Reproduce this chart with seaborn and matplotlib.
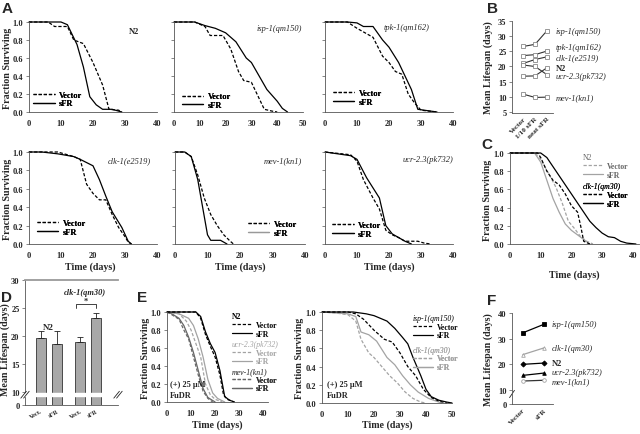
import numpy as np
import matplotlib
matplotlib.use('Agg')
import matplotlib.pyplot as plt
import seaborn as sns
from matplotlib.lines import Line2D

# ---- values ----
# survival curves: (days, fraction surviving)
A_N2_VEC = ([0, 6, 8, 12, 14, 17, 20, 23, 25, 28, 29], [1, 1, .95, .95, .8, .76, .55, .3, .03, .02, 0])
A_N2_SFR = ([0, 10, 12, 15, 17, 19, 21, 23, 26, 28, 29], [1, 1, .97, .75, .5, .17, .08, .03, .03, .01, 0])
A_ISP_VEC = ([0, 8, 12, 14, 19, 22, 25, 27, 30, 33, 35, 38, 40], [1, 1, .95, .85, .85, .7, .45, .35, .33, .15, .03, .01, 0])
A_ISP_SFR = ([0, 8, 12, 16, 20, 24, 28, 30, 33, 36, 40, 42, 44], [1, 1, .96, .93, .88, .78, .6, .55, .4, .25, .12, .04, 0])
A_TPK_VEC = ([0, 7, 10, 15, 18, 20, 22, 24, 26, 28, 30, 35], [1, 1, .93, .83, .62, .55, .45, .42, .2, .1, .02, 0])
A_TPK_SFR = ([0, 7, 10, 12, 15, 18, 20, 23, 27, 29, 33, 35], [1, 1, .99, .95, .95, .8, .72, .55, .25, .03, .01, 0])
A_CLK_VEC = ([0, 9, 14, 16, 18, 20, 22, 24, 26, 28, 30, 31, 32], [1, 1, .95, .92, .65, .55, .48, .48, .32, .18, .08, .02, 0])
A_CLK_SFR = ([0, 4, 9, 14, 16, 20, 22, 24, 26, 29, 31, 32], [1, 1, .98, .95, .92, .85, .7, .52, .35, .18, .03, 0])
A_MEV_VEC = ([0, 3, 5, 7, 9, 11, 13, 15, 17, 18], [1, 1, .95, .75, .5, .32, .2, .1, .03, 0])
A_MEV_SFR = ([0, 3, 5, 7, 9, 10, 11, 14, 15, 16], [1, 1, .95, .7, .3, .1, .04, .04, .02, 0])
A_UCR_VEC = ([0, 8, 10, 12, 15, 17, 19, 21, 23, 25, 29, 31, 33], [1, .97, .9, .7, .5, .38, .15, .1, .07, .03, .03, .01, 0])
A_UCR_SFR = ([0, 8, 10, 13, 17, 19, 21, 23, 25, 27], [1, .96, .92, .72, .5, .2, .11, .07, .03, 0])

C_N2_VEC = ([0, 8, 10, 13, 15, 17, 19, 21, 23, 25, 27], [1, 1, .93, .75, .62, .45, .25, .17, .08, .03, 0])
C_N2_SFR = ([0, 8, 10, 12, 14, 16, 18, 20, 22, 24, 26], [1, 1, .9, .7, .5, .35, .22, .15, .1, .05, 0])
C_CLK_VEC = ([0, 9, 10, 12, 14, 16, 18, 20, 22, 23, 24, 26], [1, 1, .95, .8, .7, .65, .55, .42, .35, .2, .03, 0])
C_CLK_SFR = ([0, 10, 12, 14, 16, 18, 20, 22, 24, 26, 28, 30, 32, 34, 36, 38, 41],
             [1, 1, .95, .85, .75, .65, .55, .45, .35, .25, .18, .12, .08, .07, .03, .01, 0])

E_N2_VEC = ([0, 12, 14, 16, 18, 20, 22, 23.5, 25, 28], [1, 1, .93, .75, .62, .5, .3, .08, .03, 0])
E_N2_SFR = ([0, 12, 14, 16, 18, 20, 22, 24, 26, 28], [1, 1, .95, .78, .65, .55, .35, .06, .02, 0])
E_UCR_VEC = ([0, 5, 8, 10, 12, 14, 16, 18, 20, 23], [1, .98, .9, .8, .65, .5, .2, .08, .03, 0])
E_UCR_SFR = ([0, 5, 9, 11, 13, 15, 17, 19, 21, 24], [1, .98, .93, .85, .7, .5, .25, .1, .04, 0])
E_MEV_VEC = ([0, 2, 5, 7, 9, 11, 13, 15, 17, 19], [1, .97, .92, .8, .7, .5, .3, .12, .04, 0])
E_MEV_SFR = ([0, 2, 5, 7, 9, 11, 13, 15, 17, 20], [1, .98, .93, .85, .72, .55, .35, .15, .05, 0])
E_ISP_VEC = ([0, 10, 13, 16, 20, 24, 27, 30, 33, 36, 39, 42, 45, 48], [1, 1, .98, .92, .8, .7, .67, .55, .4, .3, .15, .06, .02, 0])
E_ISP_SFR = ([0, 12, 17, 20, 25, 28, 31, 33, 35, 38, 40, 42, 45, 48, 50],
             [1, 1, .98, .96, .9, .82, .72, .65, .5, .3, .15, .07, .03, .01, 0])
E_CLK_VEC = ([0, 5, 10, 13, 15, 18, 20, 23, 26, 29, 32, 35, 38, 40], [1, .99, .97, .9, .7, .55, .5, .4, .3, .22, .12, .05, .01, 0])
E_CLK_SFR = ([0, 10, 13, 15, 18, 21, 25, 28, 31, 34, 37, 41, 44, 46], [1, .98, .95, .78, .75, .68, .5, .42, .3, .2, .12, .05, .02, 0])

# panel B: mean lifespan, three treatments
B_POS = [0, 1, 2]
B_TICKS = ['Vector', '1/10 sFR', 'neat sFR']
B_ISP = [26.6, 27.3, 31.8]
B_TPK = [23.6, 23.9, 25.1]
B_CLK = [21.0, 22.3, 23.2]
B_N2 = [20.5, 20.0, 17.3]
B_UCR = [16.8, 16.9, 19.6]
B_MEV = [10.9, 9.8, 9.9]

# panel D: mean lifespan bars
D_POS = [0, 1, 2.44, 3.44]
D_TICKS = ['Vect.', 'sFR', 'Vect.', 'sFR']
D_MEAN = [19.6, 18.6, 19.0, 23.3]
D_SEM = [1.3, 2.3, 0.8, 0.8]

# panel F: mean lifespan with FuDR
F_POS = [0, 1]
F_TICKS = ['Vector', 'sFR']
F_ISP = [32.3, 35.6]
F_CLK = [23.8, 26.4]
F_N2 = [20.0, 20.5]
F_UCR = [15.7, 16.6]
F_MEV = [13.5, 13.8]

# ---- style ----
W, H = 640, 435
SERIF = ['Liberation Serif', 'DejaVu Serif']
SANS = ['Liberation Sans', 'DejaVu Sans']
GRAY = '#a3a3a3'
DGRAY = '#666666'
DASH = (0, (2.6, 1.5))
TICK_FS = 6
LAB_FS = 7.2
LEG_FS = 6

sns.set_theme(style='ticks')
plt.rcParams['font.family'] = SERIF

fig = plt.figure(figsize=(6.4, 4.35), dpi=100)


def add_ax(x0, x1, ytop, ybot):
    return fig.add_axes([x0 / W, 1 - ybot / H, (x1 - x0) / W, (ybot - ytop) / H])


def fig_text(x, y, s, **kw):
    fig.text(x / W, 1 - y / H, s, ha='center', va='center', **kw)


def curve(ax, data, color='black', ls='-', lw=0.9):
    t, f = data
    sns.lineplot(x=t, y=f, ax=ax, color=color, linestyle=ls, linewidth=lw,
                 estimator=None, sort=False, clip_on=False)


def style_axes(ax, xlim, xticks, ylim, yticks, yticklabels, xticklabels=None):
    ax.set_xlim(*xlim)
    ax.set_ylim(*ylim)
    ax.set_xticks(xticks)
    if xticklabels is not None:
        ax.set_xticklabels(xticklabels)
    ax.set_yticks(yticks)
    ax.set_yticklabels(yticklabels)
    ax.set_xlabel('')
    ax.set_ylabel('')
    sns.despine(ax=ax)
    ax.tick_params(labelsize=TICK_FS, width=0.5, color='#555', length=2, pad=2)
    ax.tick_params(axis='x', length=0, pad=5)
    for lab in ax.get_xticklabels() + ax.get_yticklabels():
        lab.set_fontweight('bold')
    for s in ('left', 'bottom'):
        ax.spines[s].set_linewidth(0.6)
        ax.spines[s].set_color('#555')


SURV_TICKS = [0, .2, .4, .6, .8, 1.0]
SURV_LABELS = ['0.0', '0.2', '0.4', '0.6', '0.8', '1.0']


def surv_axes(ax, xmax, xticks, ylabels=True):
    style_axes(ax, (0, xmax), xticks, (0, 1), SURV_TICKS,
               SURV_LABELS if ylabels else [])


def legend(ax, entries, anchor, loc='upper left', title=None, tcolor='black',
           tstyle='italic', tweight='normal', text_color='black', fs=LEG_FS):
    handles = [Line2D([], [], color=c, linestyle=ls, linewidth=0.9) for _, c, ls in entries]
    labels = [lab for lab, _, _ in entries]
    leg = ax.legend(handles, labels, loc=loc, bbox_to_anchor=anchor, frameon=False,
                    prop={'family': SERIF, 'weight': 'bold', 'size': fs},
                    title=title,
                    title_fontproperties={'family': SERIF, 'style': tstyle,
                                          'weight': tweight, 'size': fs},
                    alignment='left', handlelength=2.6, handletextpad=0.5,
                    labelspacing=0.1, borderpad=0, borderaxespad=0)
    if title:
        leg.get_title().set_color(tcolor)
    for t in leg.get_texts():
        t.set_color(text_color)
    ax.add_artist(leg)
    return leg


VS = [('Vector', 'black', DASH), ('sFR', 'black', '-')]

# ---- panel A ----
a_specs = [
    ((29, 157, 23, 113), 40, range(0, 41, 10), True, A_N2_VEC, A_N2_SFR, 'N2', (0.82, 0.9), (0.03, 0.05)),
    ((174, 303, 23, 113), 50, range(0, 51, 10), False, A_ISP_VEC, A_ISP_SFR, 'isp-1(qm150)', (0.99, 0.93), (0.06, 0.03)),
    ((325, 453, 23, 113), 40, range(0, 41, 10), False, A_TPK_VEC, A_TPK_SFR, 'tpk-1(qm162)', (0.82, 0.95), (0.06, 0.07)),
    ((29, 157, 153, 245), 40, range(0, 41, 10), True, A_CLK_VEC, A_CLK_SFR, 'clk-1(e2519)', (0.95, 0.91), (0.06, 0.09)),
    ((175, 305, 153, 245), 40, range(0, 41, 10), False, A_MEV_VEC, A_MEV_SFR, 'mev-1(kn1)', (0.98, 0.91), (0.56, 0.075)),
    ((325, 453, 153, 245), 40, range(0, 41, 10), False, A_UCR_VEC, A_UCR_SFR, 'ucr-2.3(pk732)', (1.0, 0.92), (0.055, 0.065)),
]
for box, xmax, xt, ylab, vec, sfr, name, npos, lpos in a_specs:
    ax = add_ax(*box)
    curve(ax, vec, ls=DASH)
    curve(ax, sfr)
    surv_axes(ax, xmax, list(xt), ylab)
    if name == 'N2':
        ax.text(*npos, name, transform=ax.transAxes, ha='center', va='center',
                fontsize=LEG_FS, fontweight='bold')
    else:
        ax.text(*npos, name, transform=ax.transAxes, ha='right', va='center',
                fontsize=LEG_FS, style='italic')
    ents = VS if name != 'mev-1(kn1)' else [('Vector', 'black', DASH), ('sFR', '#999999', '-')]
    legend(ax, ents, lpos, loc='lower left')

fig_text(7.5, 68, 'Fraction Surviving', rotation=90, fontsize=LAB_FS, fontweight='bold')
fig_text(7.5, 199, 'Fraction Surviving', rotation=90, fontsize=LAB_FS, fontweight='bold')
for xc in (90, 240, 389):
    fig_text(xc, 267, 'Time (days)', fontsize=LAB_FS, fontweight='bold')

# ---- panel B ----
ax = add_ax(512, 553, 22, 114)
for vals, txt, y, bold in [(B_ISP, 'isp-1(qm150)', 31.7, False), (B_TPK, 'tpk-1(qm162)', 26.4, False),
                           (B_CLK, 'clk-1(e2519)', 23.1, False), (B_N2, 'N2', 19.6, True),
                           (B_UCR, 'ucr-2.3(pk732)', 16.8, False), (B_MEV, 'mev-1(kn1)', 10.0, False)]:
    sns.lineplot(x=B_POS, y=vals, ax=ax, color='#333333', linewidth=0.8, marker='s',
                 markersize=2.6, markerfacecolor='white', markeredgecolor='#888888',
                 markeredgewidth=0.6, estimator=None, sort=False)
    ax.text(2.7, y, txt, fontsize=LEG_FS, va='center', ha='left', clip_on=False,
            style='normal' if bold else 'italic', fontweight='bold' if bold else 'normal')
style_axes(ax, (-0.92, 2.5), B_POS, (4.67, 35), [5, 10, 15, 20, 25, 30, 35],
           ['5', '10', '15', '20', '25', '30', '35'], B_TICKS)
for lab in ax.get_xticklabels():
    lab.set_rotation(45)
    lab.set_ha('right')
    lab.set_rotation_mode('anchor')
    lab.set_fontsize(5.2)
ax.tick_params(axis='x', pad=2)
fig_text(488, 68, 'Mean Lifespan (days)', rotation=90, fontsize=LAB_FS, fontweight='bold')

# ---- panel C ----
ax = add_ax(510, 639, 154, 245)
curve(ax, C_N2_VEC, color=GRAY, ls=DASH)
curve(ax, C_N2_SFR, color=GRAY)
curve(ax, C_CLK_VEC, ls=DASH)
curve(ax, C_CLK_SFR)
surv_axes(ax, 42, [0, 10, 20, 30, 40])
legend(ax, [('Vector', GRAY, DASH), ('sFR', GRAY, '-')], (0.566, 1.0), title='N2',
       tcolor=DGRAY, tstyle='normal', text_color=DGRAY, fs=5.6)
legend(ax, VS, (0.566, 0.68), title='clk-1(qm30)', fs=5.6)
fig_text(488, 200, 'Fraction Surviving', rotation=90, fontsize=LAB_FS, fontweight='bold')
fig_text(574, 275, 'Time (days)', fontsize=LAB_FS, fontweight='bold')

# ---- panel D ----
ax = add_ax(25, 118, 281, 406)
sns.barplot(x=D_POS, y=D_MEAN, native_scale=True, width=0.62, color='#a8a8a8',
            edgecolor='#333333', linewidth=0.6, errorbar=None, ax=ax)
ax.errorbar(D_POS, D_MEAN, yerr=[np.zeros(len(D_SEM)), D_SEM], fmt='none',
            ecolor='#222222', elinewidth=0.6, capsize=2, capthick=0.6)
style_axes(ax, (-1, 4.8), D_POS, (7.74, 30), [7.74, 10, 15, 20, 25, 30],
           ['0', '10', '15', '20', '25', '30'], D_TICKS)
ax.spines['top'].set_visible(True)
ax.spines['top'].set_color('#9a9a9a')
ax.spines['top'].set_linewidth(1.3)
ax.axhspan(9.3, 9.95, color='white', zorder=5)
for lab in ax.get_xticklabels():
    lab.set_rotation(30)
    lab.set_ha('right')
    lab.set_rotation_mode('anchor')
    lab.set_fontsize(4.6)
ax.tick_params(axis='x', pad=2)
for xa in (0, 1):
    for dx in (-0.015, 0.015):
        ax.plot([xa + dx - 0.03, xa + dx + 0.03], [0.055, 0.11], transform=ax.transAxes,
                color='#222222', lw=0.6, clip_on=False, zorder=6)
ax.plot([2.2, 2.2, 3.44, 3.44], [25.1, 25.7, 25.7, 25.1], color='#222222', lw=0.6)
ax.text(2.82, 26.3, '*', ha='center', va='center', fontsize=6, fontweight='bold')
ax.text(2.75, 27.9, 'clk-1(qm30)', ha='center', va='center', fontsize=LEG_FS, style='italic',
        fontweight='bold')
ax.text(0.45, 21.6, 'N2', ha='center', va='center', fontsize=6.5, fontweight='bold')
fig_text(5, 350, 'Mean Lifespan (days)', rotation=90, fontsize=LAB_FS, fontweight='bold')

# ---- panel E ----
ax = add_ax(167, 268, 313, 403)
curve(ax, E_MEV_VEC, color=DGRAY, ls=DASH)
curve(ax, E_MEV_SFR, color=DGRAY)
curve(ax, E_UCR_VEC, color=GRAY, ls=DASH)
curve(ax, E_UCR_SFR, color=GRAY)
curve(ax, E_N2_VEC, ls=DASH)
curve(ax, E_N2_SFR)
surv_axes(ax, 42, [0, 10, 20, 30, 40])
legend(ax, VS, (0.64, 1.0), title='N2', tstyle='normal', tweight='bold', fs=5.6)
legend(ax, [('Vector', GRAY, DASH), ('sFR', GRAY, '-')], (0.64, 0.69), title='ucr-2.3(pk732)',
       tcolor=GRAY, text_color=GRAY, fs=5.6)
legend(ax, [('Vector', DGRAY, DASH), ('sFR', DGRAY, '-')], (0.64, 0.39), title='mev-1(kn1)',
       tcolor=DGRAY, text_color='#333333', fs=5.6)
ax.text(0.03, 0.03, '(+) 25 µM\nFuDR', transform=ax.transAxes, fontsize=LEG_FS,
        fontweight='bold', va='bottom', ha='left', linespacing=1.5)
fig_text(145, 358, 'Fraction Surviving', rotation=90, fontsize=LAB_FS, fontweight='bold')
fig_text(217, 425, 'Time (days)', fontsize=LAB_FS, fontweight='bold')

ax = add_ax(322, 452, 313, 404)
curve(ax, E_CLK_VEC, color=GRAY, ls=DASH)
curve(ax, E_CLK_SFR, color=GRAY)
curve(ax, E_ISP_VEC, ls=DASH)
curve(ax, E_ISP_SFR)
surv_axes(ax, 50, [0, 10, 20, 30, 40, 50])
legend(ax, VS, (0.70, 0.98), title='isp-1(qm150)', fs=5.6)
legend(ax, [('Vector', GRAY, DASH), ('sFR', GRAY, '-')], (0.70, 0.63), title='clk-1(qm30)',
       tcolor=GRAY, text_color=GRAY, fs=5.6)
ax.text(0.04, 0.04, '(+) 25 µM\nFuDR', transform=ax.transAxes, fontsize=LEG_FS,
        fontweight='bold', va='bottom', ha='left', linespacing=1.5)
fig_text(299, 358, 'Fraction Surviving', rotation=90, fontsize=LAB_FS, fontweight='bold')
fig_text(387, 425, 'Time (days)', fontsize=LAB_FS, fontweight='bold')

# ---- panel F ----
ax = add_ax(512, 553, 314, 405)
f_specs = [(F_ISP, 'isp-1(qm150)', 35.7, 'black', 's', 'black'),
           (F_CLK, 'clk-1(qm30)', 26.4, GRAY, '^', 'white'),
           (F_N2, 'N2', 20.6, 'black', 'D', 'black'),
           (F_UCR, 'ucr-2.3(pk732)', 17.1, 'black', '^', 'black'),
           (F_MEV, 'mev-1(kn1)', 13.6, '#333333', 'o', 'white')]
for vals, txt, y, col, mk, mfc in f_specs:
    sns.lineplot(x=F_POS, y=vals, ax=ax, color=col, linewidth=0.9, marker=mk,
                 markersize=2.6, markerfacecolor=mfc, markeredgecolor=col if col != '#333333' else GRAY,
                 markeredgewidth=0.6, estimator=None, sort=False)
    ax.text(1.38, y, txt, fontsize=LEG_FS, va='center', ha='left', clip_on=False,
            style='normal' if txt == 'N2' else 'italic',
            fontweight='bold' if txt == 'N2' else 'normal')
style_axes(ax, (-0.52, 1.43), F_POS, (4.55, 40), [4.55, 10, 20, 30, 40],
           ['0', '10', '20', '30', '40'], F_TICKS)
for lab in ax.get_xticklabels():
    lab.set_rotation(45)
    lab.set_ha('right')
    lab.set_rotation_mode('anchor')
    lab.set_fontsize(5.2)
ax.tick_params(axis='x', pad=2)
ax.plot([-0.06, 0.06], [0.07, 0.15], transform=ax.transAxes, color='#222222', lw=0.6,
        clip_on=False)
fig_text(488, 360, 'Mean Lifespan (days)', rotation=90, fontsize=LAB_FS, fontweight='bold')

# ---- panel letters ----
for letter, x, y in [('A', 7, 9), ('B', 492, 9), ('C', 487, 145), ('D', 6, 298),
                     ('E', 142, 298), ('F', 492, 301)]:
    fig_text(x, y, letter, fontsize=11, fontweight='bold', family=SANS)

fig.savefig('out.png', dpi=100)
